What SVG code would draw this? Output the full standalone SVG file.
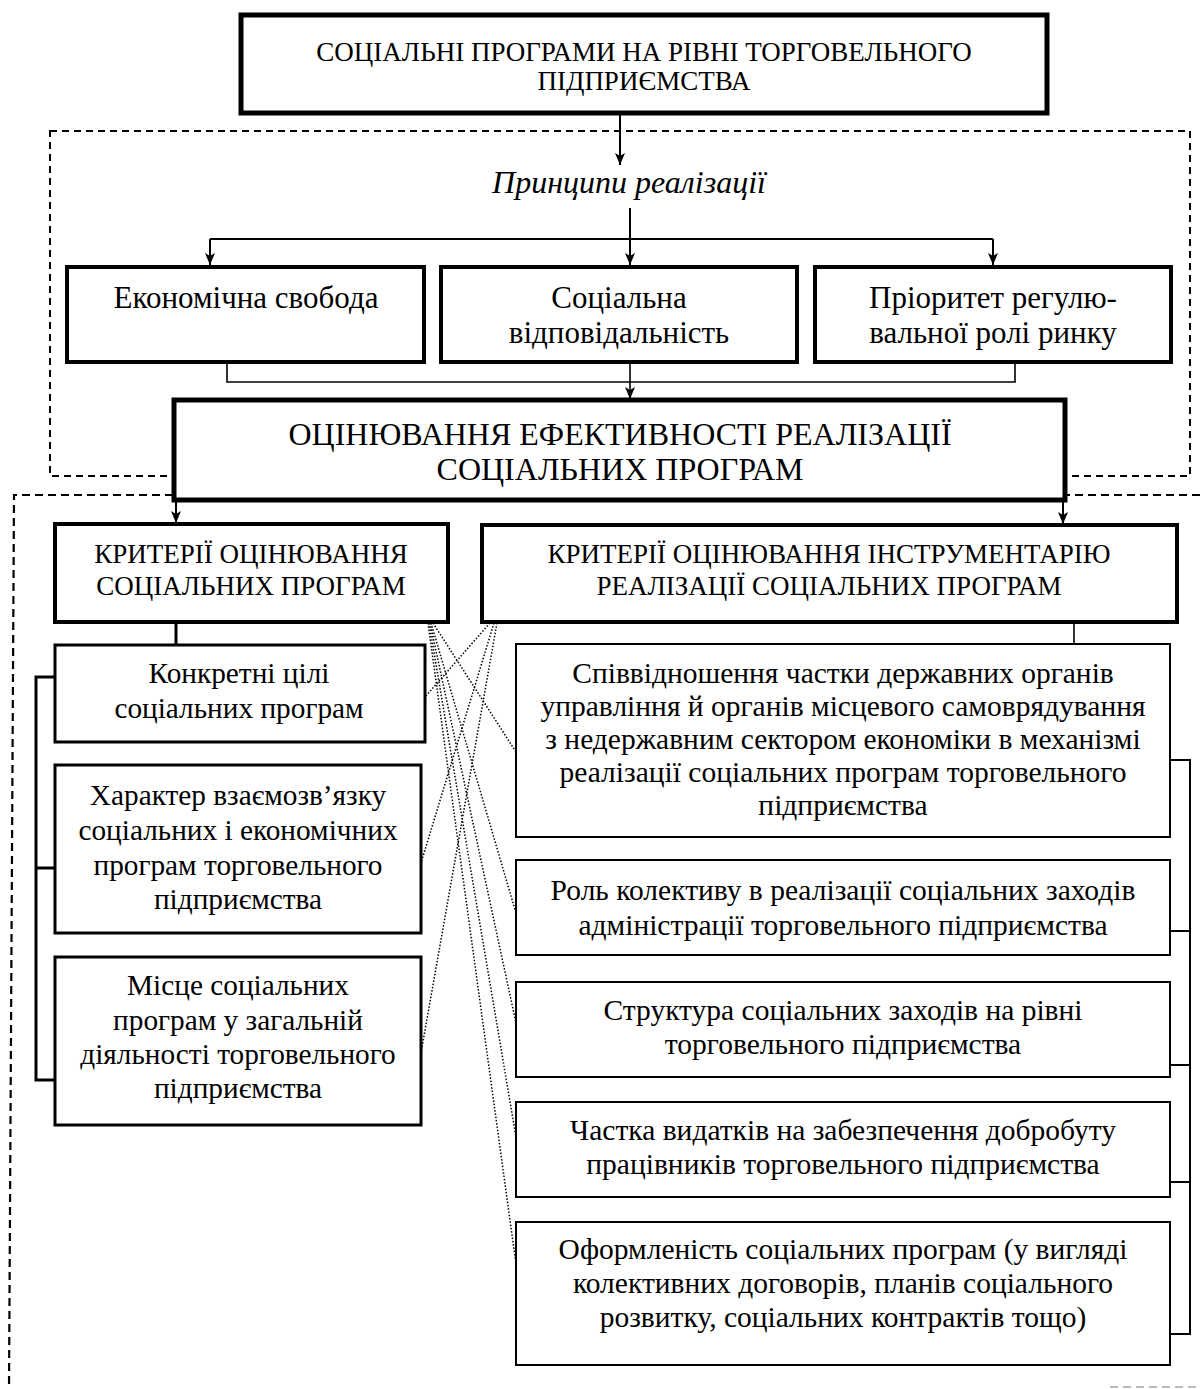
<svg xmlns="http://www.w3.org/2000/svg" width="1200" height="1389" viewBox="0 0 1200 1389">
<style>
text{font-family:"Liberation Serif","DejaVu Serif",serif;fill:#000;text-anchor:middle}
.t27{font-size:27px}
.t32{font-size:32px}
.t31{font-size:31px}
.tl{font-size:29.3px}
.tr{font-size:29.5px}
.it{font-style:italic;font-size:32px}
.b5{fill:#fff;stroke:#000;stroke-width:5}
.b4{fill:#fff;stroke:#000;stroke-width:4}
.b3{fill:#fff;stroke:#000;stroke-width:3}
.b2{fill:#fff;stroke:#000;stroke-width:2}
.ln{fill:none;stroke:#000;stroke-width:2}
.ln1{fill:none;stroke:#000;stroke-width:1.6}
.dash1{fill:none;stroke:#000;stroke-width:2;stroke-dasharray:7 5}
.dash2{fill:none;stroke:#000;stroke-width:2.2;stroke-dasharray:8 5}
.dot{fill:none;stroke:#000;stroke-width:1.5;stroke-dasharray:1.5 1.8}
</style>
<defs>
<marker id="ar" markerUnits="userSpaceOnUse" markerWidth="12" markerHeight="12" refX="12" refY="5" orient="auto">
<path d="M0,0 L12,5 L0,10 L3,5 z" fill="#000"/>
</marker>
</defs>
<rect width="1200" height="1389" fill="#fff"/>
<g id="regions">
<rect class="dash1" x="50" y="131" width="1140" height="345"/>
<path class="dash2" d="M1200,495 L14,495 L9,1389"/>
<path d="M1110,1387 L1200,1387" fill="none" stroke="#bbb" stroke-width="2" stroke-dasharray="8 5"/>
</g>
<g id="connectors">
<path class="ln" d="M620,113 L620,165" marker-end="url(#ar)"/>
<path class="ln" d="M630,208 L630,265"/>
<path class="ln" d="M210,239 L993,239"/>
<path class="ln" d="M630,239 L630,265" marker-end="url(#ar)"/>
<path class="ln" d="M210,239 L210,265" marker-end="url(#ar)"/>
<path class="ln" d="M993,239 L993,265" marker-end="url(#ar)"/>
<path class="ln1" d="M227,362 L227,382 L1015,382 L1015,362"/>
<path class="ln1" d="M630,362 L630,399" marker-end="url(#ar)"/>
<path class="ln" d="M176,500 L176,523" marker-end="url(#ar)"/>
<path class="ln" d="M1063,500 L1063,524" marker-end="url(#ar)"/>
<path d="M176,622 L176,645" fill="none" stroke="#000" stroke-width="3"/>
<path d="M55,677 L36,677 L36,1080 L55,1080 M36,868 L55,868" fill="none" stroke="#000" stroke-width="3"/>
<path class="ln1" d="M1074,622 L1074,644"/>
<path d="M1170,760 L1190,760 L1190,1334 L1170,1334 M1170,931 L1190,931 M1170,1065 L1190,1065 M1170,1182 L1190,1182" fill="none" stroke="#000" stroke-width="2"/>
<path class="dot" d="M433,623 L516,752"/>
<path class="dot" d="M431,623 L516,913"/>
<path class="dot" d="M430,623 L516,1023"/>
<path class="dot" d="M429,623 L516,1137"/>
<path class="dot" d="M428,623 L516,1264"/>
<path class="dot" d="M490,623 L425,697"/>
<path class="dot" d="M494,623 L421,863"/>
<path class="dot" d="M497,623 L421,1053"/>
</g>
<g id="n-top">
<rect class="b5" x="241" y="15" width="806" height="98"/>
<text class="t27" x="644" y="61">СОЦІАЛЬНІ ПРОГРАМИ НА РІВНІ ТОРГОВЕЛЬНОГО</text>
<text class="t27" x="644" y="90">ПІДПРИЄМСТВА</text>
</g>
<g id="n-principles">
<text class="it" x="629" y="193">Принципи реалізації</text>
</g>
<g id="n-econ">
<rect class="b4" x="67" y="267" width="357" height="95"/>
<text class="t31" x="246" y="308">Економічна свобода</text>
</g>
<g id="n-social">
<rect class="b4" x="441" y="267" width="356" height="95"/>
<text class="t31" x="619" y="308">Соціальна</text>
<text class="t31" x="619" y="343">відповідальність</text>
</g>
<g id="n-market">
<rect class="b4" x="815" y="267" width="356" height="95"/>
<text class="t31" x="993" y="308">Пріоритет регулю-</text>
<text class="t31" x="993" y="343">вальної ролі ринку</text>
</g>
<g id="n-eval">
<rect class="b5" x="174" y="400" width="891" height="100"/>
<text class="t32" x="620" y="445">ОЦІНЮВАННЯ ЕФЕКТИВНОСТІ РЕАЛІЗАЦІЇ</text>
<text class="t32" x="620" y="480">СОЦІАЛЬНИХ ПРОГРАМ</text>
</g>
<g id="n-crit-left">
<rect class="b4" x="55" y="524" width="393" height="98"/>
<text class="t27" x="251" y="563">КРИТЕРІЇ ОЦІНЮВАННЯ</text>
<text class="t27" x="251" y="595">СОЦІАЛЬНИХ ПРОГРАМ</text>
</g>
<g id="n-crit-right">
<rect class="b4" x="482" y="525" width="695" height="97"/>
<text class="t27" x="829" y="563">КРИТЕРІЇ ОЦІНЮВАННЯ ІНСТРУМЕНТАРІЮ</text>
<text class="t27" x="829" y="595">РЕАЛІЗАЦІЇ СОЦІАЛЬНИХ ПРОГРАМ</text>
</g>
<g id="n-l1">
<rect class="b3" x="55" y="645" width="370" height="97"/>
<text class="tl" x="239" y="683">Конкретні цілі</text>
<text class="tl" x="239" y="718">соціальних програм</text>
</g>
<g id="n-l2">
<rect class="b3" x="55" y="765" width="366" height="168"/>
<text class="tl" x="238" y="805">Характер взаємозв’язку</text>
<text class="tl" x="238" y="840">соціальних і економічних</text>
<text class="tl" x="238" y="875">програм торговельного</text>
<text class="tl" x="238" y="909">підприємства</text>
</g>
<g id="n-l3">
<rect class="b3" x="55" y="957" width="366" height="168"/>
<text class="tl" x="238" y="995">Місце соціальних</text>
<text class="tl" x="238" y="1030">програм у загальній</text>
<text class="tl" x="238" y="1064">діяльності торговельного</text>
<text class="tl" x="238" y="1098">підприємства</text>
</g>
<g id="n-r1">
<rect class="b2" x="516" y="644" width="654" height="193"/>
<text class="tr" x="843" y="683">Співвідношення частки державних органів</text>
<text class="tr" x="843" y="716">управління й органів місцевого самоврядування</text>
<text class="tr" x="843" y="749">з недержавним сектором економіки в механізмі</text>
<text class="tr" x="843" y="782">реалізації соціальних програм торговельного</text>
<text class="tr" x="843" y="815">підприємства</text>
</g>
<g id="n-r2">
<rect class="b2" x="516" y="860" width="654" height="95"/>
<text class="tr" x="843" y="900">Роль колективу в реалізації соціальних заходів</text>
<text class="tr" x="843" y="935">адміністрації торговельного підприємства</text>
</g>
<g id="n-r3">
<rect class="b2" x="516" y="982" width="654" height="95"/>
<text class="tr" x="843" y="1020">Структура соціальних заходів на рівні</text>
<text class="tr" x="843" y="1054">торговельного підприємства</text>
</g>
<g id="n-r4">
<rect class="b2" x="516" y="1102" width="654" height="95"/>
<text class="tr" x="843" y="1140">Частка видатків на забезпечення добробуту</text>
<text class="tr" x="843" y="1174">працівників торговельного підприємства</text>
</g>
<g id="n-r5">
<rect class="b2" x="516" y="1222" width="654" height="143"/>
<text class="tr" x="843" y="1259">Оформленість соціальних програм (у вигляді</text>
<text class="tr" x="843" y="1293">колективних договорів, планів соціального</text>
<text class="tr" x="843" y="1327">розвитку, соціальних контрактів тощо)</text>
</g>
</svg>
